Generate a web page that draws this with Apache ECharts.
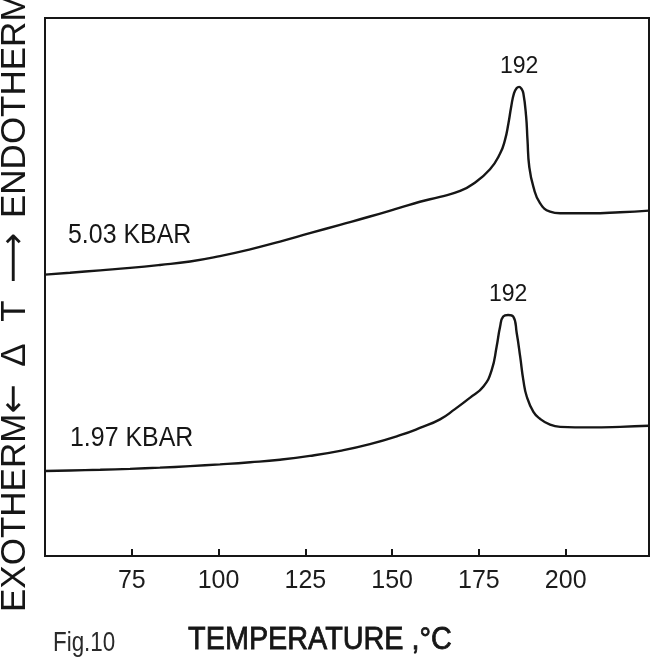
<!DOCTYPE html>
<html>
<head>
<meta charset="utf-8">
<script src="https://cdn.jsdelivr.net/npm/echarts@6/dist/echarts.min.js"></script>
<style>
  html, body { margin: 0; padding: 0; background: #ffffff; }
  #chart { width: 652px; height: 664px; }
</style>
</head>
<body>
<div id="chart"></div>
<script>
// Temperature axis tick labels (°C)
const TEMP_TICKS = [75, 100, 125, 150, 175, 200];

// DTA trace at 5.03 kbar: temperature (°C) and ΔT signal (arbitrary units, endotherm up)
const temp503 = [50.0, 57.2, 65.9, 74.5, 83.1, 91.8, 100.4, 109.1, 117.7, 126.3,
                 135.0, 143.6, 152.3, 158.0, 163.8, 169.6, 173.4, 178.2, 181.1, 182.5,
                 183.5, 184.3, 185.1, 185.9, 186.6, 187.2, 187.8, 188.6, 189.0, 189.5,
                 190.7, 192.6, 195.5, 198.4, 207.0, 215.7, 224.0];
const dt503 = [52.3, 52.65, 53.1, 53.55, 54.1, 54.75, 55.75, 57.0, 58.45, 60.0,
               61.55, 63.1, 64.75, 65.85, 66.75, 67.85, 69.2, 71.9, 74.8, 77.3,
               80.4, 83.5, 86.0, 87.0, 87.2, 86.9, 86.0, 81.7, 77.3, 72.4,
               68.6, 65.6, 64.0, 63.7, 63.7, 63.9, 64.2];

// DTA trace at 1.97 kbar
const temp197 = [50.0, 57.2, 65.9, 74.5, 83.1, 91.8, 100.4, 109.1, 117.7, 126.3,
                 135.0, 143.6, 152.3, 158.0, 163.8, 168.1, 172.4, 176.3, 178.7, 180.1,
                 181.1, 182.0, 183.4, 184.9, 185.9, 186.9, 187.8, 188.8, 190.7, 192.6,
                 195.5, 198.4, 207.0, 215.7, 224.0];
const dt197 = [15.8, 15.9, 16.03, 16.2, 16.42, 16.7, 17.03, 17.42, 17.9, 18.6,
               19.55, 20.8, 22.45, 23.8, 25.4, 27.3, 29.4, 31.5, 34.6, 38.9,
               42.6, 44.5, 44.8, 44.5, 41.4, 37.0, 32.7, 29.6, 26.8, 25.5,
               24.4, 24.0, 23.9, 24.0, 24.2];

// Reported peak temperatures and run labels
const PEAK_503 = '192';
const PEAK_197 = '192';
const RUN_NAMES = ['5.03 KBAR', '1.97 KBAR'];

const INK = '#161616';
const FONT = '"Liberation Sans", Arial, Helvetica, sans-serif';
const ARROW_FONT = '"DejaVu Sans", sans-serif';

function pairs(xs, ys) { return xs.map((x, i) => [x, ys[i]]); }
function peakOf(xs, ys) {
  let k = 0;
  ys.forEach((v, i) => { if (v > ys[k]) k = i; });
  return [xs[k], ys[k]];
}

function trace(name, xs, ys, peakText) {
  return {
    name: name,
    type: 'line',
    data: pairs(xs, ys),
    smooth: 0.5,
    symbol: 'none',
    lineStyle: { color: INK, width: 2.4 },
    markPoint: {
      silent: true,
      symbol: 'circle',
      symbolSize: 1,
      itemStyle: { color: 'rgba(0,0,0,0)' },
      label: {
        show: true,
        position: 'inside',
        offset: [0, -20],
        formatter: peakText,
        color: INK,
        fontSize: 23,
        fontFamily: FONT
      },
      data: [{ coord: peakOf(xs, ys) }]
    }
  };
}

// vertical caption piece, rotated to read bottom-to-top
function vText(text, y, align, font) {
  return {
    type: 'text', x: 15, y: y, rotation: Math.PI / 2, silent: true,
    style: { text: text, font: '35px ' + (font || FONT), fill: INK,
             textAlign: align, textVerticalAlign: 'middle' }
  };
}

const chart = echarts.init(document.getElementById('chart'), null, { renderer: 'canvas' });

const option = {
  backgroundColor: '#ffffff',
  animation: false,
  grid: {
    left: 45, right: 3, top: 18, bottom: 108,
    show: true, borderColor: INK, borderWidth: 2, backgroundColor: 'transparent'
  },
  xAxis: {
    type: 'value',
    min: 50, max: 224, interval: 25,
    axisLine: { show: true, onZero: false, lineStyle: { color: INK, width: 2 } },
    axisTick: { show: true, inside: true, length: 7, lineStyle: { color: INK, width: 2 } },
    axisLabel: {
      margin: 13,
      color: '#1c1c1c',
      fontSize: 25,
      fontFamily: FONT,
      formatter: v => (TEMP_TICKS.indexOf(v) >= 0 ? String(v) : '')
    },
    splitLine: { show: false }
  },
  yAxis: { type: 'value', min: 0, max: 100, show: false },
  series: [
    trace(RUN_NAMES[0], temp503, dt503, PEAK_503),
    trace(RUN_NAMES[1], temp197, dt197, PEAK_197)
  ],
  graphic: [
    // run labels
    { type: 'text', x: 68, y: 235, scaleX: 0.89, silent: true,
      style: { text: RUN_NAMES[0], font: '28px ' + FONT, fill: INK,
               textAlign: 'left', textVerticalAlign: 'middle' } },
    { type: 'text', x: 70, y: 438, scaleX: 0.89, silent: true,
      style: { text: RUN_NAMES[1], font: '28px ' + FONT, fill: INK,
               textAlign: 'left', textVerticalAlign: 'middle' } },
    // ΔT axis caption
    vText('EXOTHERM', 612, 'left'),
    vText('\u2190', 399, 'center', ARROW_FONT),
    vText('\u0394', 355, 'center'),
    vText('T', 311, 'center'),
    vText('\u27F6', 258, 'center', ARROW_FONT),
    vText('ENDOTHERM', 218, 'left'),
    // temperature axis caption and figure number
    { type: 'text', x: 320, y: 640, scaleX: 0.9, silent: true,
      style: { text: 'TEMPERATURE ,\u00B0C', font: '32px ' + FONT, fill: INK,
               stroke: INK, lineWidth: 0.8,
               textAlign: 'center', textVerticalAlign: 'middle' } },
    { type: 'text', x: 53, y: 643, scaleX: 0.8, silent: true,
      style: { text: 'Fig.10', font: '28px ' + FONT, fill: '#2a2a2a',
               textAlign: 'left', textVerticalAlign: 'middle' } }
  ]
};

chart.setOption(option);
</script>
</body>
</html>
